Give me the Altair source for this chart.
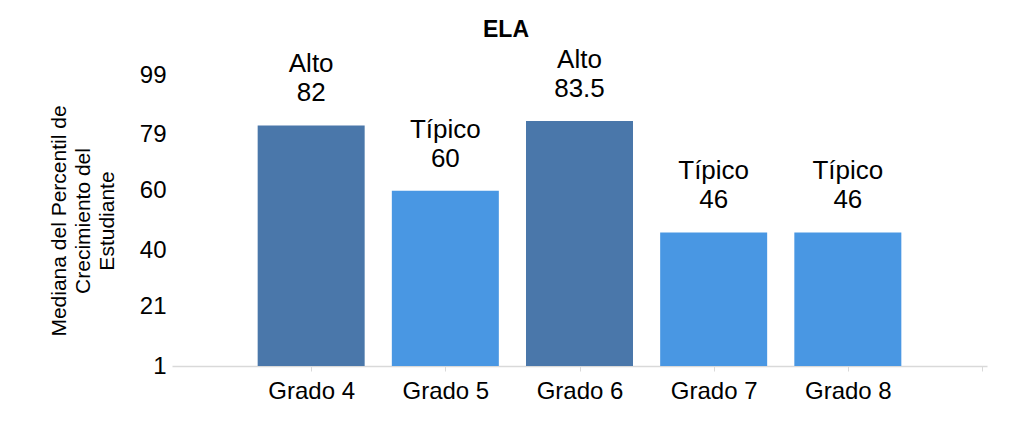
import json
import altair as alt
import pandas as pd

categories = ["Grado 4", "Grado 5", "Grado 6", "Grado 7", "Grado 8"]
values = [82, 60, 83.5, 46, 46]
value_labels = ["82", "60", "83.5", "46", "46"]
levels = ["Alto", "Típico", "Alto", "Típico", "Típico"]
positions = [1, 2, 3, 4, 5]
y_ticks = [1, 21, 40, 60, 79, 99]
y_title = ["Mediana del Percentil de", "Crecimiento del", "Estudiante"]
title_text = "ELA"

df = pd.DataFrame({
    "pos": positions,
    "cat": categories,
    "val": values,
    "vlab": value_labels,
    "level": levels,
})
df["label"] = df["level"] + "\n" + df["vlab"]

tick_names = [""] + categories + [""]
label_expr = json.dumps(tick_names) + "[datum.value]"

FONT = "Liberation Sans"

x = alt.X(
    "pos:Q",
    scale=alt.Scale(domain=[0, 6], nice=False, zero=False),
    axis=alt.Axis(
        values=[1, 2, 3, 4, 5, 6],
        labelExpr=label_expr,
        title=None,
        grid=False,
        domainColor="#d9d9d9",
        domainWidth=1.5,
        tickColor="#d9d9d9",
        tickSize=5,
        labelFontSize=24,
        labelFont=FONT,
        labelColor="#000000",
        labelPadding=8,
    ),
)
y = alt.Y(
    "val:Q",
    scale=alt.Scale(domain=[1, 99], nice=False, zero=False),
    axis=alt.Axis(
        values=y_ticks,
        title=y_title,
        domain=False,
        ticks=False,
        grid=False,
        labelFontSize=24,
        labelFont=FONT,
        labelColor="#000000",
        labelPadding=6,
        titleFont=FONT,
        titleFontSize=21,
        titleFontWeight="normal",
        titleColor="#000000",
        titleLineHeight=24,
        titlePadding=22,
    ),
)

color = alt.Color(
    "level:N",
    scale=alt.Scale(domain=["Alto", "Típico"], range=["#4A77AA", "#4997E3"]),
    legend=None,
)

bars = alt.Chart(df).mark_bar(size=107).encode(x=x, y=y, y2=alt.datum(1), color=color)

texts = alt.Chart(df).mark_text(
    lineBreak="\n",
    baseline="alphabetic",
    dy=-53,
    fontSize=26,
    font=FONT,
    lineHeight=29,
    color="#000000",
).encode(x="pos:Q", y="val:Q", text="label:N")

title = alt.Chart(pd.DataFrame({"t": [title_text]})).mark_text(
    font=FONT,
    fontSize=23,
    fontWeight="bold",
    color="#000000",
    baseline="alphabetic",
    align="center",
).encode(x=alt.value(334), y=alt.value(-38), text="t:N")

chart = (
    alt.layer(bars, texts, title)
    .properties(
        width=815,
        height=291,
        autosize=alt.AutoSizeParams(type="none"),
        padding={"left": 164, "top": 67, "right": 20, "bottom": 50},
    )
    .configure_view(stroke=None)
)

chart.save("out.html", embed_options={"renderer": "svg", "actions": False})
